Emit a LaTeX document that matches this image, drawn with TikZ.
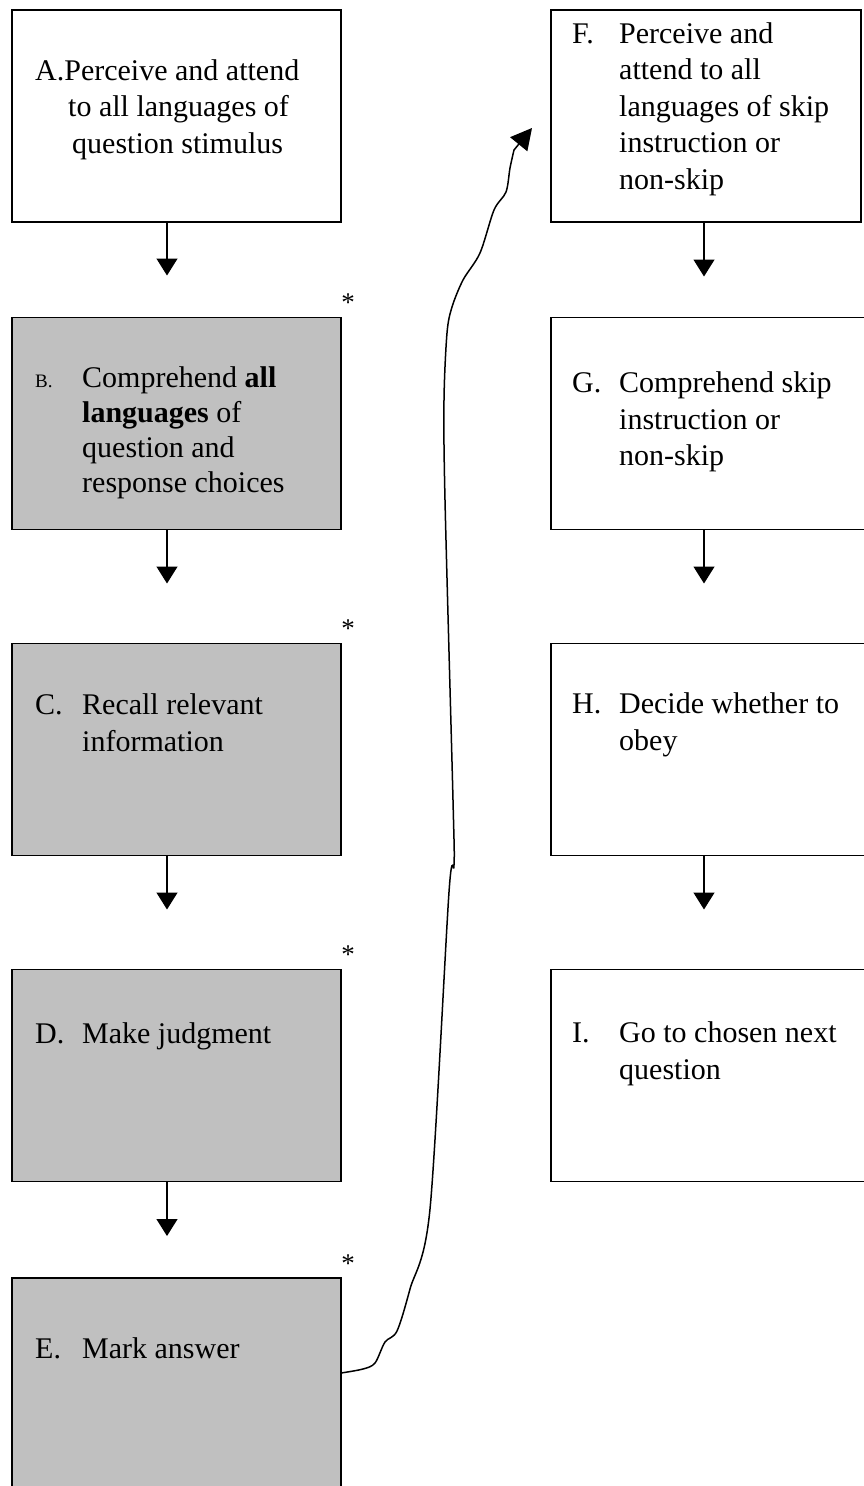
\documentclass[tikz,border=0pt]{standalone}
\usepackage{fontspec}
\setmainfont{Liberation Serif}
\usepackage{tikz}
\usetikzlibrary{positioning,arrows.meta,calc}
\definecolor{boxgray}{RGB}{192,192,192}
\newcommand{\lbl}[1]{\makebox[47pt][l]{#1}}
\newcommand{\ind}{\hspace*{47pt}}
\newcommand{\boxtext}[1]{\parbox[t]{300pt}{\fontsize{30}{36.5}\selectfont #1}}

\begin{document}
\begin{tikzpicture}[x=1pt,y=-1pt,
  stepbox/.style={draw,line width=1.3pt,rectangle,inner sep=0pt,outer sep=0pt,minimum height=212pt},
  leftbox/.style={stepbox,minimum width=329pt},
  rightbox/.style={stepbox,minimum width=319pt},
  grayfill/.style={fill=boxgray},
  steptext/.style={anchor=base west,inner sep=0pt},
  starnote/.style={anchor=base,inner sep=0pt,font=\fontsize{27}{27}\selectfont},
  flowarrow/.style={line width=1.3pt,-{Stealth[inset=0pt,length=17pt,width=21pt]}},
  skipline/.style={line width=1.5pt,-{Stealth[inset=0pt,length=21pt,width=22pt]}}]
\useasboundingbox (0,0) rectangle (864,1486);

\node [leftbox] (A) at (176.5,116) {};
\node [leftbox,grayfill] (B) at (176.5,423.5) {};
\node [leftbox,grayfill] (C) at (176.5,749.5) {};
\node [leftbox,grayfill] (D) at (176.5,1075.5) {};
\node [leftbox,grayfill] (E) at (176.5,1384) {};
\node [stepbox,minimum width=310pt] (F) at (706,116) {};
\node [rightbox] (G) at (710.5,423.5) {};
\node [rightbox] (H) at (710.5,749.5) {};
\node [rightbox] (I) at (710.5,1075.5) {};

\node [steptext] (Atext) at ([shift={(23,70)}]A.north west) {\boxtext{A.Perceive and attend\\\hspace*{33pt}to all languages of\\\hspace*{37pt}question stimulus}};
\node [steptext] (Btext) at ([shift={(23,70)}]B.north west) {\parbox[t]{300pt}{\fontsize{30}{35}\selectfont \lbl{\fontsize{19}{19}\selectfont B.}Comprehend \textbf{all}\\\ind\textbf{languages} of\\\ind question and\\\ind response choices}};
\node [steptext] (Ctext) at ([shift={(23,71)}]C.north west) {\boxtext{\lbl{C.}Recall relevant\\\ind information}};
\node [steptext] (Dtext) at ([shift={(23,74)}]D.north west) {\boxtext{\lbl{D.}Make judgment}};
\node [steptext] (Etext) at ([shift={(23,80)}]E.north west) {\boxtext{\lbl{E.}Mark answer}};
\node [steptext] (Ftext) at ([shift={(21,33)}]F.north west) {\boxtext{\lbl{F.}Perceive and\\\ind attend to all\\\ind languages of skip\\\ind instruction or\\\ind non-skip}};
\node [steptext] (Gtext) at ([shift={(21,75)}]G.north west) {\boxtext{\lbl{G.}Comprehend skip\\\ind instruction or\\\ind non-skip}};
\node [steptext] (Htext) at ([shift={(21,70)}]H.north west) {\boxtext{\lbl{H.}Decide whether to\\\ind obey}};
\node [steptext] (Itext) at ([shift={(21,73)}]I.north west) {\boxtext{\lbl{I.}Go to chosen next\\\ind question}};

\node [starnote] (Bstar) at ([shift={(7,-6)}]B.north east) {*};
\node [starnote] (Cstar) at ([shift={(7,-6)}]C.north east) {*};
\node [starnote] (Dstar) at ([shift={(7,-6)}]D.north east) {*};
\node [starnote] (Estar) at ([shift={(7,-6)}]E.north east) {*};

\draw [flowarrow,shorten >=42pt] ([xshift=-9.5pt]A.south) -- ([xshift=-9.5pt]B.north);
\draw [flowarrow,shorten >=60pt] ([xshift=-9.5pt]B.south) -- ([xshift=-9.5pt]C.north);
\draw [flowarrow,shorten >=60pt] ([xshift=-9.5pt]C.south) -- ([xshift=-9.5pt]D.north);
\draw [flowarrow,shorten >=42pt] ([xshift=-9.5pt]D.south) -- ([xshift=-9.5pt]E.north);
\draw [flowarrow,shorten >=41pt] ([xshift=-2pt]F.south) -- ([xshift=-2pt]F.south |- G.north);
\draw [flowarrow,shorten >=60pt] ([xshift=-6.5pt]G.south) -- ([xshift=-6.5pt]H.north);
\draw [flowarrow,shorten >=60pt] ([xshift=-6.5pt]H.south) -- ([xshift=-6.5pt]I.north);

\coordinate (tipF) at ([shift={(-19,12)}]F.west);
\draw [skipline] plot [smooth,tension=0.5] coordinates {([yshift=11pt]E.east) (363,1369) (375,1363) (385,1342) (397,1331) (410,1289) (430,1209) (449,892) (454,865) (453,800) (445,500) (444,400) (447,333) (452,307) (463,280) (480,253) (494,210) (506,192) (510,168) (514,150)} -- (tipF);
\end{tikzpicture}
\end{document}
